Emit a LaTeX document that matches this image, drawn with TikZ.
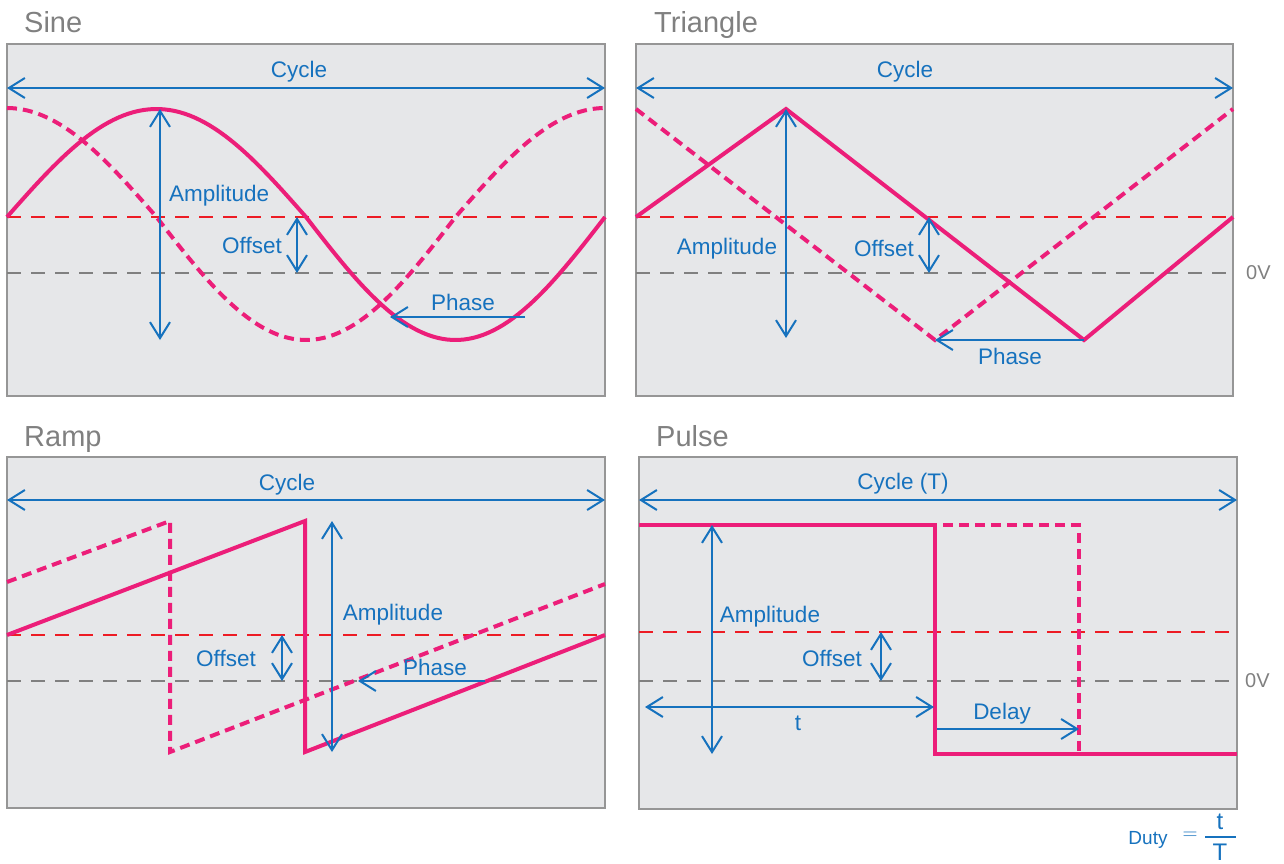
\documentclass[tikz,border=0pt]{standalone}
\usepackage{fontspec}
\setmainfont{Liberation Sans}
\usetikzlibrary{arrows.meta}
\definecolor{wavepink}{RGB}{236,30,121}
\definecolor{dimblue}{RGB}{22,114,190}
\definecolor{offred}{RGB}{237,28,36}
\definecolor{zerogray}{RGB}{128,128,128}
\definecolor{panelfill}{RGB}{230,231,233}
\definecolor{paneledge}{RGB}{150,150,150}
\begin{document}
\begin{tikzpicture}[
  x=1pt, y=-1pt,
  >={Straight Barb[length=16pt, width=20pt]},
  panel/.style={draw=paneledge, line width=2pt, fill=panelfill},
  title/.style={anchor=west, inner sep=0pt, text=zerogray, font=\fontsize{29}{34}\selectfont},
  lbl/.style={inner sep=0pt, text=dimblue, font=\fontsize{22.5}{27}\selectfont},
  zerolbl/.style={anchor=west, inner sep=0pt, text=zerogray, font=\fontsize{20}{24}\selectfont},
  wave/.style={draw=wavepink, line width=4pt, line join=miter},
  ghost/.style={draw=wavepink, line width=4pt, dash pattern=on 10pt off 6pt},
  offsetline/.style={draw=offred, line width=2pt, dash pattern=on 14pt off 10pt},
  zeroline/.style={draw=zerogray, line width=2pt, dash pattern=on 14pt off 10pt},
  dim/.style={draw=dimblue, line width=2pt, <->},
  dimto/.style={draw=dimblue, line width=2pt, ->}
]
\useasboundingbox (0,0) rectangle (1284,863);

% Sine
\node[title] (sinetitle) at (24,22) {Sine};
\draw[panel] (7,44) rectangle (605,396);
\draw[zeroline] (7,273) -- (605,273);
\draw[offsetline] (7,217) -- (605,217);
\draw[ghost] plot[domain=0:90, samples=30] ({7+\x/360*598}, {217-109*cos(\x)})
  -- plot[domain=90:270, samples=60] ({7+\x/360*598}, {217-123*cos(\x)})
  -- plot[domain=270:360, samples=30] ({7+\x/360*598}, {217-109*cos(\x)});
\draw[wave] plot[domain=0:180, samples=60] ({7+\x/360*598}, {217-108*sin(\x)})
  -- plot[domain=180:360, samples=60] ({7+\x/360*598}, {217-123*sin(\x)});
\coordinate (sCycL) at (7,88);    \coordinate (sCycR) at (605,88);
\coordinate (sAmpT) at (160,109); \coordinate (sAmpB) at (160,340);
\coordinate (sOffT) at (297,217); \coordinate (sOffB) at (297,273);
\coordinate (sPhR) at (525,317);  \coordinate (sPhL) at (390,317);
\draw[dim] (sCycL) -- (sCycR);
\draw[dim] (sAmpT) -- (sAmpB);
\draw[dim] (sOffT) -- (sOffB);
\draw[dimto] (sPhR) -- (sPhL);
\node[lbl] (sinecycle) at (299,72) {Cycle};
\node[lbl, anchor=west] (sineamp) at (169,196) {Amplitude};
\node[lbl] (sineoff) at (252,245) {Offset};
\node[lbl] (sinephase) at (463,302) {Phase};

% Triangle
\node[title] (tritite) at (654,25) {Triangle};
\draw[panel] (636,44) rectangle (1233,396);
\draw[zeroline] (636,273) -- (1233,273);
\draw[offsetline] (636,217) -- (1233,217);
\draw[ghost] (636,109) -- (935,340) -- (1233,109);
\draw[wave] (636,217) -- (786,109) -- (1084,340) -- (1233,217);
\coordinate (tCycL) at (636,88);  \coordinate (tCycR) at (1233,88);
\coordinate (tAmpT) at (786,109); \coordinate (tAmpB) at (786,338);
\coordinate (tOffT) at (929,217); \coordinate (tOffB) at (929,273);
\coordinate (tPhR) at (1084,340); \coordinate (tPhL) at (935,340);
\draw[dim] (tCycL) -- (tCycR);
\draw[dim] (tAmpT) -- (tAmpB);
\draw[dim] (tOffT) -- (tOffB);
\draw[dimto] (tPhR) -- (tPhL);
\node[lbl] (tricycle) at (905,72) {Cycle};
\node[lbl] (triamp) at (727,249) {Amplitude};
\node[lbl] (trioff) at (884,248) {Offset};
\node[lbl] (triphase) at (1010,356) {Phase};
\node[zerolbl] (trizero) at (1246,273) {0V};

% Ramp
\node[title] (ramptitle) at (24,440) {Ramp};
\draw[panel] (7,457) rectangle (605,808);
\draw[zeroline] (7,681) -- (605,681);
\draw[offsetline] (7,635) -- (605,635);
\draw[ghost] (7,582) -- (170,521) -- (170,752) -- (605,584);
\draw[wave] (7,635) -- (305,521) -- (305,752) -- (605,635);
\coordinate (rCycL) at (7,500);   \coordinate (rCycR) at (605,500);
\coordinate (rAmpT) at (332,521); \coordinate (rAmpB) at (332,752);
\coordinate (rOffT) at (282,635); \coordinate (rOffB) at (282,681);
\coordinate (rPhR) at (485,681);  \coordinate (rPhL) at (358,681);
\draw[dim] (rCycL) -- (rCycR);
\draw[dim] (rAmpT) -- (rAmpB);
\draw[dim] (rOffT) -- (rOffB);
\draw[dimto] (rPhR) -- (rPhL);
\node[lbl] (rampcycle) at (287,485) {Cycle};
\node[lbl] (rampamp) at (393,615) {Amplitude};
\node[lbl] (rampoff) at (226,658) {Offset};
\node[lbl] (rampphase) at (435,667) {Phase};

% Pulse
\node[title] (pulsetitle) at (656,436) {Pulse};
\draw[panel] (639,457) rectangle (1237,809);
\draw[zeroline] (639,681) -- (1237,681);
\draw[offsetline] (639,632) -- (1237,632);
\draw[ghost] (639,525) -- (1079,525) -- (1079,754) -- (1237,754);
\draw[wave] (639,525) -- (935,525) -- (935,754) -- (1237,754);
\coordinate (pCycL) at (639,500); \coordinate (pCycR) at (1237,500);
\coordinate (pAmpT) at (712,525); \coordinate (pAmpB) at (712,754);
\coordinate (pOffT) at (881,632); \coordinate (pOffB) at (881,681);
\coordinate (pWidL) at (645,707); \coordinate (pWidR) at (934,707);
\coordinate (pDelL) at (937,729); \coordinate (pDelR) at (1079,729);
\draw[dim] (pCycL) -- (pCycR);
\draw[dim] (pAmpT) -- (pAmpB);
\draw[dim] (pOffT) -- (pOffB);
\draw[dim] (pWidL) -- (pWidR);
\draw[dimto] (pDelL) -- (pDelR);
\node[lbl] (pulsecycle) at (903,484) {Cycle (T)};
\node[lbl] (pulseamp) at (770,617) {Amplitude};
\node[lbl] (pulseoff) at (832,658) {Offset};
\node[lbl] (pulsewidth) at (798,723) {t};
\node[lbl] (pulsedelay) at (1002,714) {Delay};
\node[zerolbl] (pulsezero) at (1245,681) {0V};

% duty formula
\node[lbl, font=\fontsize{19}{23}\selectfont] (duty) at (1148,840) {Duty};
\node[lbl] (dutyeq) at (1190,836) {$=$};
\node[lbl, font=\fontsize{24}{28}\selectfont] (dutynum) at (1220,822) {t};
\node[lbl, font=\fontsize{24}{28}\selectfont] (dutyden) at (1220,852) {T};
\draw[dimblue, line width=2pt] (1205,837) -- (1236,837);
\end{tikzpicture}
\end{document}
